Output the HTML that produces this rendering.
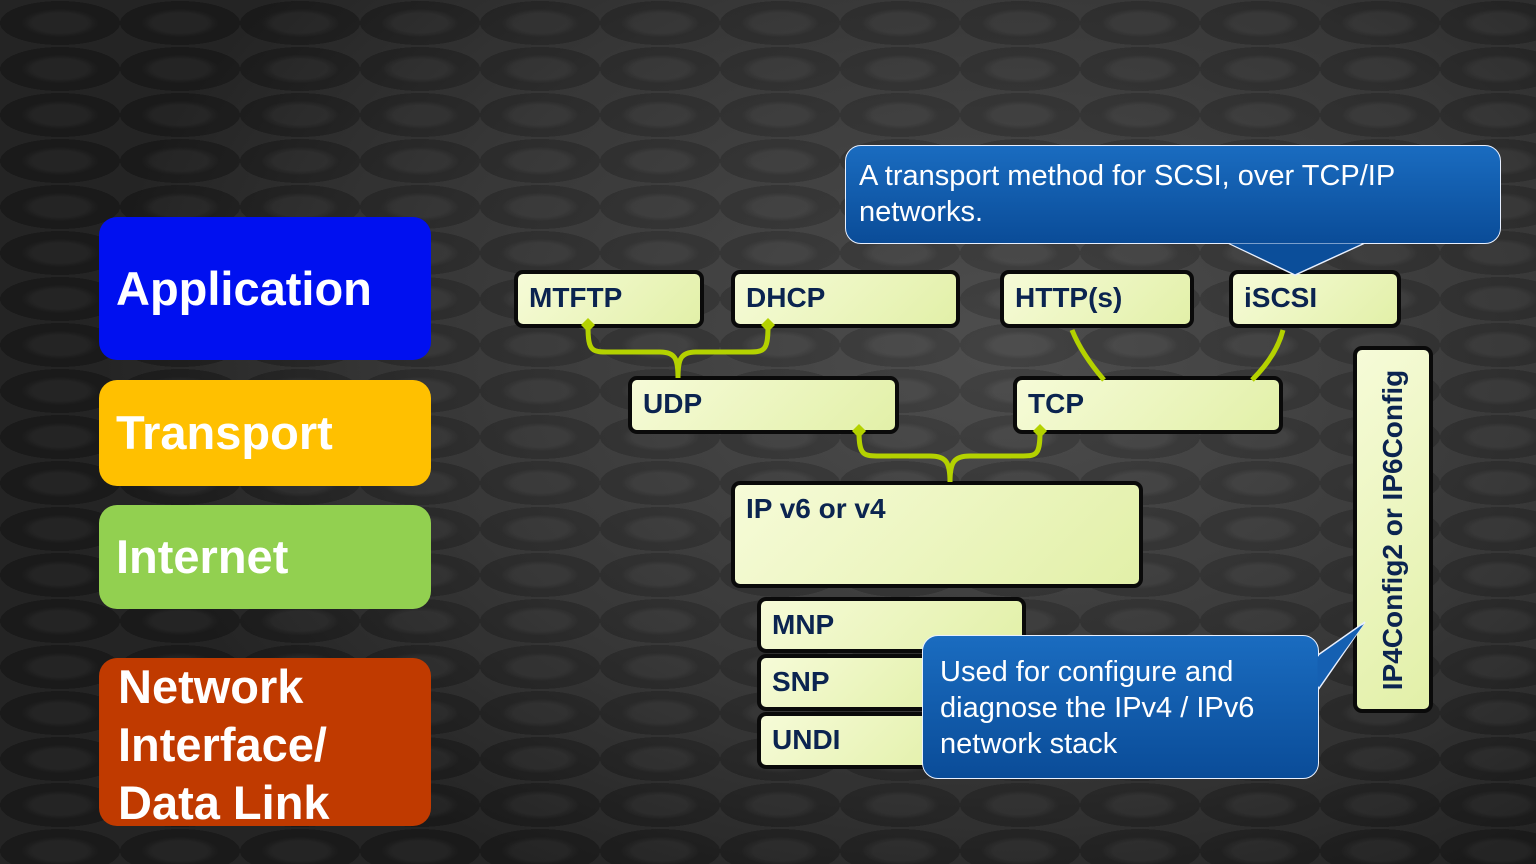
<!DOCTYPE html>
<html><head><meta charset="utf-8"><style>
body{margin:0;width:1536px;height:864px;overflow:hidden;position:relative;font-family:"Liberation Sans",sans-serif;
background:radial-gradient(ellipse 900px 600px at 1000px 350px,#474747,#303030 65%,#1c1c1c);}
.bg{position:absolute;inset:0;background:repeating-radial-gradient(ellipse 60px 22px at 50% 50%,rgba(255,255,255,.035) 0 45%,rgba(0,0,0,.08) 65% 100%);background-size:120px 46px;}
.lbl{position:absolute;left:99px;width:332px;border-radius:18px;color:#fff;font-weight:bold;font-size:47px;box-sizing:border-box;padding-left:17px;}
.g{position:absolute;box-sizing:border-box;border:4px solid #0a0a0a;border-radius:9px;background:linear-gradient(135deg,#f6fbd8,#e2f0a8);color:#0b2450;font-weight:bold;font-size:28px;padding:8px 0 0 11px;}
.co{position:absolute;box-sizing:border-box;border:1.5px solid #e8f0ff;border-radius:16px;background:linear-gradient(180deg,#1a6cc0,#0a4c98);color:#fff;font-size:29px;line-height:36px;}
</style></head><body>
<div class="bg"></div>
<div class="lbl" style="top:217px;height:143px;background:#0010f0;line-height:143px">Application</div>
<div class="lbl" style="top:380px;height:106px;background:#ffc000;line-height:106px">Transport</div>
<div class="lbl" style="top:505px;height:104px;background:#92d050;line-height:104px">Internet</div>
<div class="lbl" style="top:658px;height:168px;background:#c03a00;line-height:58px;padding-top:0px;padding-left:19px">Network<br>Interface/<br>Data Link</div>

<div class="g" style="left:514px;top:270px;width:190px;height:58px">MTFTP</div>
<div class="g" style="left:731px;top:270px;width:229px;height:58px">DHCP</div>
<div class="g" style="left:1000px;top:270px;width:194px;height:58px">HTTP(s)</div>
<div class="g" style="left:1229px;top:270px;width:172px;height:58px">iSCSI</div>
<div class="g" style="left:628px;top:376px;width:271px;height:58px">UDP</div>
<div class="g" style="left:1013px;top:376px;width:270px;height:58px">TCP</div>
<div class="g" style="left:731px;top:481px;width:412px;height:107px">IP v6 or v4</div>
<div class="g" style="left:757px;top:597px;width:269px;height:56px">MNP</div>
<div class="g" style="left:757px;top:654px;width:200px;height:57px">SNP</div>
<div class="g" style="left:757px;top:712px;width:200px;height:57px">UNDI</div>
<div class="g" style="left:1353px;top:346px;width:80px;height:367px;padding:0"><div style="position:absolute;left:50%;top:50%;transform:translate(-50%,-50%) rotate(-90deg);white-space:nowrap">IP4Config2 or IP6Config</div></div>

<svg width="1536" height="864" style="position:absolute;left:0;top:0" fill="none" stroke="#b4d200" stroke-width="5">
<path d="M588 326 C588 352 592 352 610 352 L660 352 C676 352 678 360 678 378 M678 378 C678 360 680 352 696 352 L746 352 C764 352 768 352 768 326"/>
<path d="M859 432 C859 456 864 456 880 456 L930 456 C946 456 950 462 950 482 M950 482 C950 462 954 456 970 456 L1020 456 C1036 456 1040 456 1040 432"/>
<path d="M1072 330 C1080 350 1092 366 1104 380"/>
<path d="M1283 330 C1278 350 1266 366 1252 380"/>
<g fill="#b4d200" stroke="none"><path d="M588 318 l7 7 -7 7 -7 -7z"/><path d="M768 318 l7 7 -7 7 -7 -7z"/><path d="M859 424 l7 7 -7 7 -7 -7z"/><path d="M1040 424 l7 7 -7 7 -7 -7z"/></g>
<path d="M1228 243 L1295 275 L1365 243" fill="#0a4c98" stroke="#e8f0ff" stroke-width="1.5"/>
<path d="M1318 690 L1365 622 L1318 655" fill="#1662b4" stroke="#e8f0ff" stroke-width="1.5"/>
</svg>
<div class="co" style="left:845px;top:145px;width:656px;height:99px;padding:12px 0 0 13px">A transport method for SCSI, over TCP/IP<br>networks.</div>
<div class="co" style="left:922px;top:635px;width:397px;height:144px;padding:18px 0 0 17px">Used for configure and<br>diagnose the IPv4 / IPv6<br>network stack</div>
<svg width="1536" height="864" style="position:absolute;left:0;top:0"><path d="M1230 243.5 L1295 274 L1362 243.5" fill="#0b4e9a"/><path d="M1317.5 688 L1364 624 L1317.5 657" fill="#1560b2"/></svg>
</body></html>
